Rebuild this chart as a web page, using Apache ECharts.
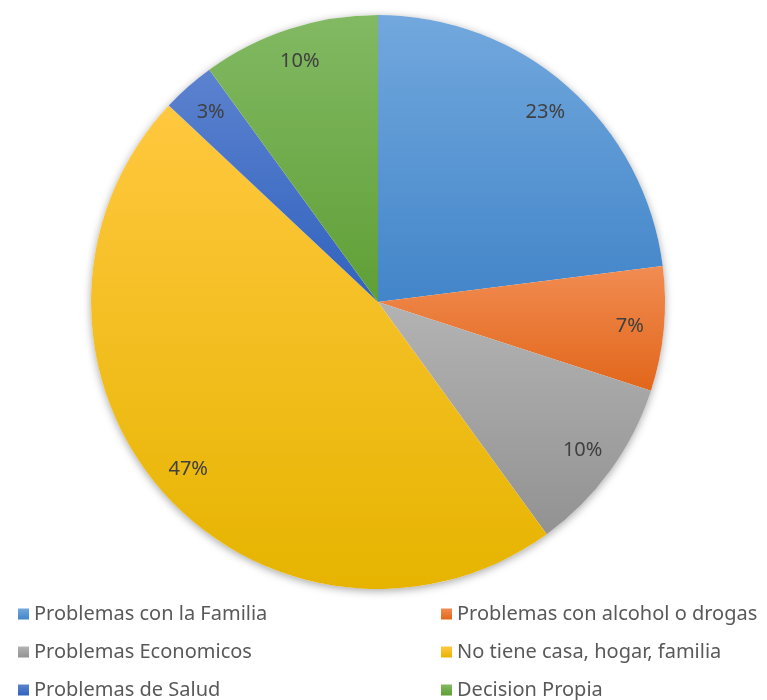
<!DOCTYPE html>
<html>
<head>
<meta charset="utf-8">
<script src="https://cdn.jsdelivr.net/npm/echarts@6/dist/echarts.min.js"></script>
<style>
  html, body { margin: 0; padding: 0; background: #ffffff; }
  #chart { width: 767px; height: 700px; }
</style>
</head>
<body>
<div id="chart"></div>
<script>
// Motivos y su porcentaje
const categories = [
  'Problemas con la Familia',
  'Problemas con alcohol o drogas',
  'Problemas Economicos',
  'No tiene casa, hogar, familia',
  'Problemas de Salud',
  'Decision Propia'
];
const values = [23, 7, 10, 47, 3, 10];

// Top/bottom colours of each slice gradient
const topColors = ['#72a8dd', '#f18c52', '#b3b3b3', '#ffc83f', '#5c82cf', '#82b963'];
const bottomColors = ['#4285c9', '#e2661a', '#929292', '#e6b400', '#3062be', '#5f9f36'];

const FONT = "'Noto Sans', 'Open Sans', sans-serif";

const grad = (i) => new echarts.graphic.LinearGradient(0, 0, 0, 1, [
  { offset: 0, color: topColors[i] },
  { offset: 1, color: bottomColors[i] }
]);

const sliceData = categories.map((name, i) => ({
  name,
  value: values[i],
  itemStyle: { color: grad(i) }
}));

const labelData = categories.map((name, i) => ({ name, value: values[i] }));

const total = values.reduce((a, b) => a + b, 0);
const CENTER = [378, 302];
const R = 287;

const legendBase = {
  orient: 'vertical',
  top: 598,
  height: 110,
  itemWidth: 11,
  itemHeight: 11,
  itemGap: 16,
  icon: 'rect',
  textStyle: { fontFamily: FONT, fontSize: 20, color: '#595959', lineHeight: 22, padding: [0, 0, 0, 0] }
};

const chart = echarts.init(document.getElementById('chart'), null, { renderer: 'canvas' });
chart.setOption({
  backgroundColor: '#ffffff',
  animation: false,
  legend: [
    Object.assign({}, legendBase, {
      left: 13,
      data: [categories[0], categories[2], categories[4]]
    }),
    Object.assign({}, legendBase, {
      left: 436,
      data: [categories[1], categories[3], categories[5]]
    })
  ],
  series: [
    {
      // soft shadow under the whole disc
      type: 'pie',
      silent: true,
      center: CENTER,
      radius: R,
      z: 1,
      legendHoverLink: false,
      label: { show: false },
      labelLine: { show: false },
      data: [{ name: '', value: total }],
      itemStyle: {
        color: '#ffffff',
        shadowBlur: 8,
        shadowColor: 'rgba(0,0,0,0.35)',
        shadowOffsetY: 2
      }
    },
    {
      type: 'pie',
      center: CENTER,
      radius: R,
      startAngle: 90,
      clockwise: true,
      z: 2,
      label: { show: false },
      labelLine: { show: false },
      itemStyle: { borderWidth: 0 },
      data: sliceData
    },
    {
      // ring used only to place the percentage labels near the rim
      type: 'pie',
      center: CENTER,
      radius: [213, 287],
      startAngle: 90,
      clockwise: true,
      silent: true,
      z: 3,
      legendHoverLink: false,
      itemStyle: { color: 'rgba(0,0,0,0)' },
      label: {
        show: true,
        position: 'inside',
        formatter: (p) => p.value + '%',
        fontFamily: FONT,
        fontSize: 20,
        color: '#404040',
        padding: [4, 0, 0, 0]
      },
      labelLine: { show: false },
      data: labelData
    }
  ]
});
</script>
</body>
</html>
